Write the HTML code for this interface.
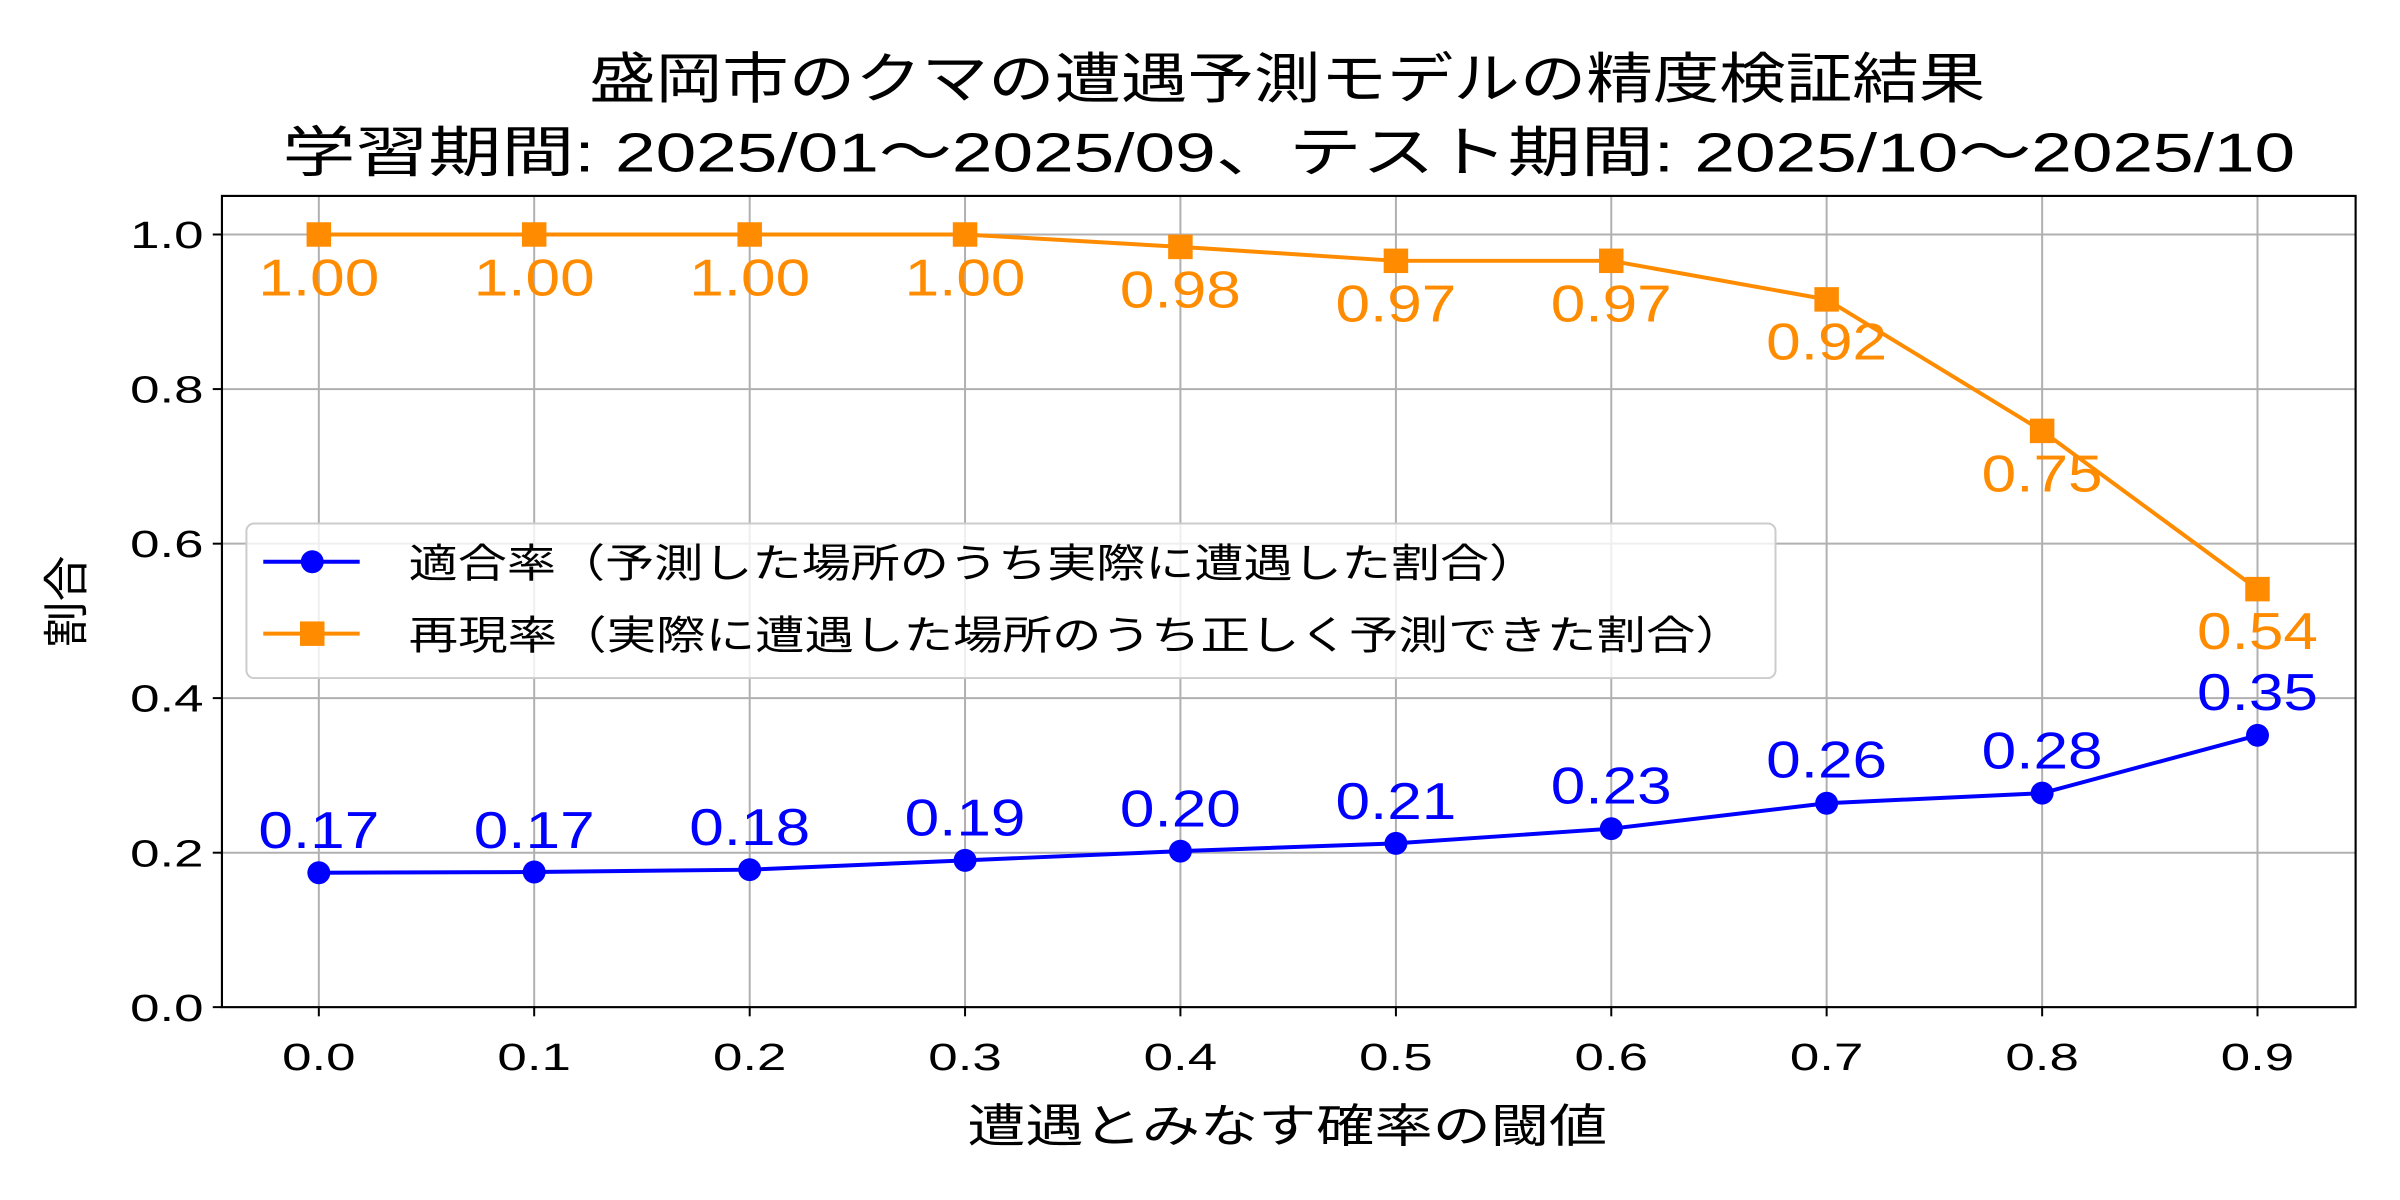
<!DOCTYPE html>
<html><head><meta charset="utf-8"><style>
html,body{margin:0;padding:0;background:#fff;}
svg{display:block;}
text{font-family:"Liberation Sans","Noto Sans CJK JP",sans-serif;}
</style></head><body>
<svg width="2400" height="1200" viewBox="0 0 1568 784" xmlns="http://www.w3.org/2000/svg">
<rect width="1568" height="784" fill="#fff"/>
<text x="841" y="64" font-size="36" text-anchor="middle" textLength="912" lengthAdjust="spacingAndGlyphs">盛岡市のクマの遭遇予測モデルの精度検証結果</text>
<text x="842" y="112" font-size="36" text-anchor="middle" textLength="1315" lengthAdjust="spacingAndGlyphs">学習期間: 2025/01〜2025/09、テスト期間: 2025/10〜2025/10</text>
<g stroke="#b0b0b0" stroke-width="1.3">
<line x1="208.3" y1="128" x2="208.3" y2="658"/><line x1="349" y1="128" x2="349" y2="658"/><line x1="489.8" y1="128" x2="489.8" y2="658"/><line x1="630.5" y1="128" x2="630.5" y2="658"/><line x1="771.2" y1="128" x2="771.2" y2="658"/><line x1="912" y1="128" x2="912" y2="658"/><line x1="1052.7" y1="128" x2="1052.7" y2="658"/><line x1="1193.4" y1="128" x2="1193.4" y2="658"/><line x1="1334.2" y1="128" x2="1334.2" y2="658"/><line x1="1474.9" y1="128" x2="1474.9" y2="658"/>
<line x1="145" y1="557.1" x2="1539" y2="557.1"/><line x1="145" y1="456.1" x2="1539" y2="456.1"/><line x1="145" y1="355.2" x2="1539" y2="355.2"/><line x1="145" y1="254.2" x2="1539" y2="254.2"/><line x1="145" y1="153.2" x2="1539" y2="153.2"/>
</g>
<g stroke="#000" stroke-width="1.3">
<line x1="208.3" y1="658" x2="208.3" y2="664"/><line x1="349" y1="658" x2="349" y2="664"/><line x1="489.8" y1="658" x2="489.8" y2="664"/><line x1="630.5" y1="658" x2="630.5" y2="664"/><line x1="771.2" y1="658" x2="771.2" y2="664"/><line x1="912" y1="658" x2="912" y2="664"/><line x1="1052.7" y1="658" x2="1052.7" y2="664"/><line x1="1193.4" y1="658" x2="1193.4" y2="664"/><line x1="1334.2" y1="658" x2="1334.2" y2="664"/><line x1="1474.9" y1="658" x2="1474.9" y2="664"/>
<line x1="139" y1="658" x2="145" y2="658"/><line x1="139" y1="557.1" x2="145" y2="557.1"/><line x1="139" y1="456.1" x2="145" y2="456.1"/><line x1="139" y1="355.2" x2="145" y2="355.2"/><line x1="139" y1="254.2" x2="145" y2="254.2"/><line x1="139" y1="153.2" x2="145" y2="153.2"/>
</g>
<g font-size="25" text-anchor="middle">
<text x="208.3" y="699" textLength="48" lengthAdjust="spacingAndGlyphs">0.0</text><text x="349" y="699" textLength="48" lengthAdjust="spacingAndGlyphs">0.1</text><text x="489.8" y="699" textLength="48" lengthAdjust="spacingAndGlyphs">0.2</text><text x="630.5" y="699" textLength="48" lengthAdjust="spacingAndGlyphs">0.3</text><text x="771.2" y="699" textLength="48" lengthAdjust="spacingAndGlyphs">0.4</text><text x="912" y="699" textLength="48" lengthAdjust="spacingAndGlyphs">0.5</text><text x="1052.7" y="699" textLength="48" lengthAdjust="spacingAndGlyphs">0.6</text><text x="1193.4" y="699" textLength="48" lengthAdjust="spacingAndGlyphs">0.7</text><text x="1334.2" y="699" textLength="48" lengthAdjust="spacingAndGlyphs">0.8</text><text x="1474.9" y="699" textLength="48" lengthAdjust="spacingAndGlyphs">0.9</text>
</g>
<g font-size="25" text-anchor="end">
<text x="133" y="667" textLength="48" lengthAdjust="spacingAndGlyphs">0.0</text><text x="133" y="566" textLength="48" lengthAdjust="spacingAndGlyphs">0.2</text><text x="133" y="465" textLength="48" lengthAdjust="spacingAndGlyphs">0.4</text><text x="133" y="364" textLength="48" lengthAdjust="spacingAndGlyphs">0.6</text><text x="133" y="263" textLength="48" lengthAdjust="spacingAndGlyphs">0.8</text><text x="133" y="162" textLength="48" lengthAdjust="spacingAndGlyphs">1.0</text>
</g>
<text x="841" y="746" font-size="30" text-anchor="middle" textLength="418" lengthAdjust="spacingAndGlyphs">遭遇とみなす確率の閾値</text>
<text transform="translate(54,393) rotate(-90)" font-size="30" text-anchor="middle">割合</text>
<polyline fill="none" stroke="#ff8c00" stroke-width="2.6" points="208.3,153.2 349,153.2 489.8,153.2 630.5,153.2 771.2,161.3 912,170.4 1052.7,170.4 1193.4,195.6 1334.2,281.5 1474.9,384.9"/>
<g fill="#ff8c00">
<rect x="200.3" y="145.2" width="16" height="16"/><rect x="341" y="145.2" width="16" height="16"/><rect x="481.8" y="145.2" width="16" height="16"/><rect x="622.5" y="145.2" width="16" height="16"/><rect x="763.2" y="153.3" width="16" height="16"/><rect x="904" y="162.4" width="16" height="16"/><rect x="1044.7" y="162.4" width="16" height="16"/><rect x="1185.4" y="187.6" width="16" height="16"/><rect x="1326.2" y="273.5" width="16" height="16"/><rect x="1466.9" y="376.9" width="16" height="16"/>
</g>
<polyline fill="none" stroke="#0000ff" stroke-width="2.6" points="208.3,570.2 349,569.7 489.8,568.2 630.5,562.1 771.2,556.1 912,551 1052.7,541.4 1193.4,524.8 1334.2,518.2 1474.9,480.4"/>
<g fill="#0000ff">
<circle cx="208.3" cy="570.2" r="7.5"/><circle cx="349" cy="569.7" r="7.5"/><circle cx="489.8" cy="568.2" r="7.5"/><circle cx="630.5" cy="562.1" r="7.5"/><circle cx="771.2" cy="556.1" r="7.5"/><circle cx="912" cy="551" r="7.5"/><circle cx="1052.7" cy="541.4" r="7.5"/><circle cx="1193.4" cy="524.8" r="7.5"/><circle cx="1334.2" cy="518.2" r="7.5"/><circle cx="1474.9" cy="480.4" r="7.5"/>
</g>
<g font-size="34" text-anchor="middle" fill="#ff8c00">
<text x="208.3" y="193" textLength="79" lengthAdjust="spacingAndGlyphs">1.00</text><text x="349" y="193" textLength="79" lengthAdjust="spacingAndGlyphs">1.00</text><text x="489.8" y="193" textLength="79" lengthAdjust="spacingAndGlyphs">1.00</text><text x="630.5" y="193" textLength="79" lengthAdjust="spacingAndGlyphs">1.00</text><text x="771.2" y="201" textLength="79" lengthAdjust="spacingAndGlyphs">0.98</text><text x="912" y="210" textLength="79" lengthAdjust="spacingAndGlyphs">0.97</text><text x="1052.7" y="210" textLength="79" lengthAdjust="spacingAndGlyphs">0.97</text><text x="1193.4" y="235" textLength="79" lengthAdjust="spacingAndGlyphs">0.92</text><text x="1334.2" y="321" textLength="79" lengthAdjust="spacingAndGlyphs">0.75</text><text x="1474.9" y="424" textLength="79" lengthAdjust="spacingAndGlyphs">0.54</text>
</g>
<g font-size="34" text-anchor="middle" fill="#0000ff">
<text x="208.3" y="554" textLength="79" lengthAdjust="spacingAndGlyphs">0.17</text><text x="349" y="554" textLength="79" lengthAdjust="spacingAndGlyphs">0.17</text><text x="489.8" y="552" textLength="79" lengthAdjust="spacingAndGlyphs">0.18</text><text x="630.5" y="546" textLength="79" lengthAdjust="spacingAndGlyphs">0.19</text><text x="771.2" y="540" textLength="79" lengthAdjust="spacingAndGlyphs">0.20</text><text x="912" y="535" textLength="79" lengthAdjust="spacingAndGlyphs">0.21</text><text x="1052.7" y="525" textLength="79" lengthAdjust="spacingAndGlyphs">0.23</text><text x="1193.4" y="508" textLength="79" lengthAdjust="spacingAndGlyphs">0.26</text><text x="1334.2" y="502" textLength="79" lengthAdjust="spacingAndGlyphs">0.28</text><text x="1474.9" y="464" textLength="79" lengthAdjust="spacingAndGlyphs">0.35</text>
</g>
<rect x="145" y="128" width="1394" height="530" fill="none" stroke="#000" stroke-width="1.4"/>
<rect x="161" y="342" width="999" height="101" rx="5" fill="#fff" fill-opacity="0.8" stroke="#cccccc" stroke-width="1.3"/>
<line x1="172" y1="367" x2="235" y2="367" stroke="#0000ff" stroke-width="2.6"/><circle cx="204" cy="367" r="7.5" fill="#0000ff"/>
<line x1="172" y1="414" x2="235" y2="414" stroke="#ff8c00" stroke-width="2.6"/><rect x="196" y="406" width="16" height="16" fill="#ff8c00"/>
<text x="267" y="377" font-size="26" textLength="738" lengthAdjust="spacingAndGlyphs">適合率（予測した場所のうち実際に遭遇した割合）</text>
<text x="267" y="424" font-size="26" textLength="873" lengthAdjust="spacingAndGlyphs">再現率（実際に遭遇した場所のうち正しく予測できた割合）</text>
</svg>
</body></html>
